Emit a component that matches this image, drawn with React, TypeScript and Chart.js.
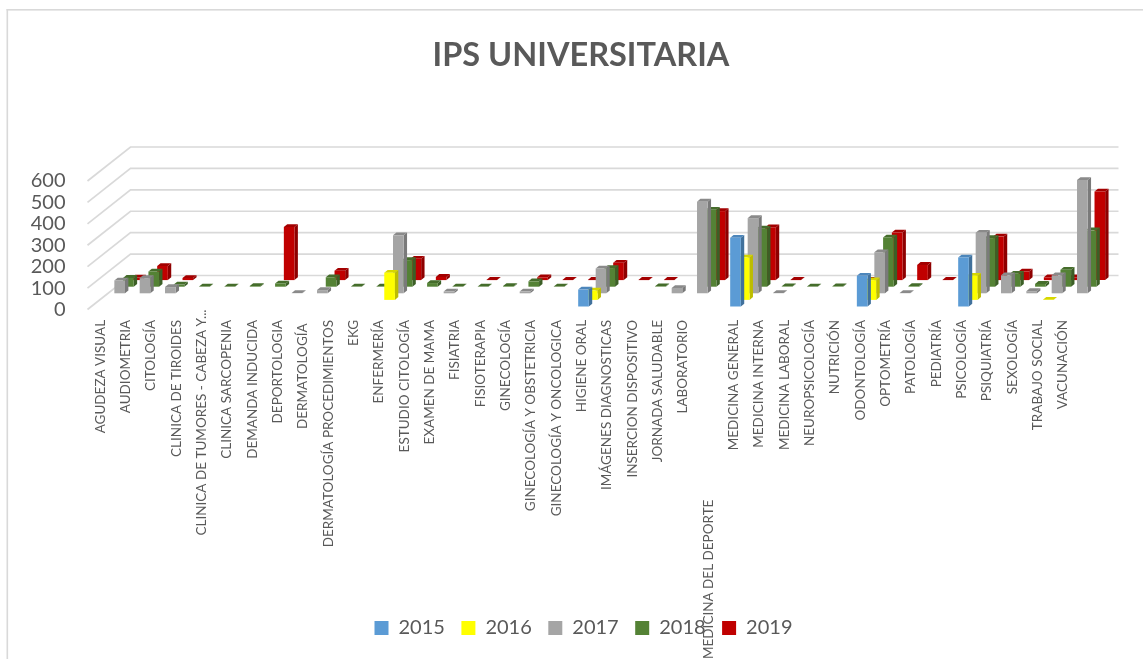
import React, { useEffect, useRef } from "react";
import { Chart, registerables } from "chart.js";

Chart.register(...registerables);

const categories = [
  "AGUDEZA VISUAL", "AUDIOMETRIA", "CITOLOGÍA", "CLINICA DE TIROIDES", "CLINICA DE TUMORES - CABEZA Y...",
  "CLINICA SARCOPENIA", "DEMANDA INDUCIDA", "DEPORTOLOGIA", "DERMATOLOGÍA", "DERMATOLOGÍA PROCEDIMIENTOS",
  "EKG", "ENFERMERÍA", "ESTUDIO CITOLOGÍA", "EXAMEN DE MAMA", "FISIATRIA", "FISIOTERAPIA", "GINECOLOGÍA",
  "GINECOLOGÍA Y OBSTETRICIA", "GINECOLOGÍA Y ONCOLOGICA", "HIGIENE ORAL", "IMÁGENES DIAGNOSTICAS",
  "INSERCION DISPOSITIVO", "JORNADA SALUDABLE", "LABORATORIO", "MEDICINA DEL DEPORTE", "MEDICINA GENERAL",
  "MEDICINA INTERNA", "MEDICINA LABORAL", "NEUROPSICOLOGÍA", "NUTRICIÓN", "ODONTOLOGÍA", "OPTOMETRÍA",
  "PATOLOGÍA", "PEDIATRÍA", "PSICOLOGÍA", "PSIQUIATRÍA", "SEXOLOGÍA", "TRABAJO SOCIAL", "VACUNACIÓN",
];

const n = null;
const values2015 = [n,n,n,n,n,n,n,n,n,n,n,n,n,n,n,n,n,n,n,79,n,n,n,n,n,321,n,n,n,n,143,n,n,n,229,n,n,n,n];
const values2016 = [n,n,n,n,n,n,n,n,n,n,n,127,n,n,n,n,n,n,n,44,n,n,n,n,n,198,n,n,n,n,92,n,n,n,113,n,n,1,n];
const values2017 = [60,71,29,n,n,n,n,1,15,n,n,271,n,8,n,n,8,n,n,116,n,n,25,428,n,351,1,n,n,n,192,1,n,n,283,84,10,84,529];
const values2018 = [41,71,10,1,1,3,15,n,44,1,1,124,17,1,1,3,25,1,n,87,n,2,n,359,n,271,2,1,2,n,230,3,n,n,227,60,13,79,263];
const values2019 = [12,66,10,n,n,n,248,n,44,n,n,100,15,n,1,n,13,1,1,81,1,1,n,322,n,246,1,n,n,1,222,71,1,n,203,40,13,13,414];

const yTicks = [0, 100, 200, 300, 400, 500, 600];
const seriesNames = ["2015", "2016", "2017", "2018", "2019"];
const frontColors = ["#5b9bd5", "#ffff00", "#a5a5a5", "#548235", "#c00000"];
const sideColors = ["#41719c", "#bdbd00", "#7a7a7a", "#3c5f26", "#8e0000"];
const topColors = ["#4c86bb", "#d6d600", "#8a8a8a", "#456d2b", "#a30000"];

const FONT = "Lato, Carlito, Calibri, sans-serif";
const GRID = "#d9d9d9";
const TEXT = "#595959";

// 3-D projection constants
const WALL_DX = 43;
const WALL_DY = 34;
const FIRST_DX = 2;
const FIRST_DY = 3;
const STEP_DX = 8.75;
const STEP_DY = 6.6;
const DEPTH_DX = 3.4;
const DEPTH_DY = 2.8;
const LEGEND_SHIFT = 2.5;

// Trailing blanks push a rotated label down from the axis, as they do in the source.
const labelGap = (label: string) => {
  if (label === "MEDICINA DEL DEPORTE") return 55;
  if (label.endsWith("...")) return 0;
  if (label === "DERMATOLOGÍA") return 4;
  return 3;
};

const poly = (ctx: CanvasRenderingContext2D, pts: number[][], fill: string) => {
  ctx.beginPath();
  pts.forEach((p, i) => (i ? ctx.lineTo(p[0], p[1]) : ctx.moveTo(p[0], p[1])));
  ctx.closePath();
  ctx.fillStyle = fill;
  ctx.fill();
};

const threeD = {
  id: "threeD",
  afterLayout(chart: any) {
    chart.legend.left += LEGEND_SHIFT;
    chart.legend.right += LEGEND_SHIFT;
    // let the long rotated labels run past the axis box, over the legend band
    chart.scales.x.bottom = chart.height;
  },
  beforeDraw(chart: any) {
    const { ctx, width, height } = chart;
    ctx.save();
    ctx.fillStyle = "#ffffff";
    ctx.fillRect(0, 0, width, height);
    ctx.fillStyle = GRID;
    ctx.fillRect(6.5, 9, 1.6, height - 9);
    ctx.fillRect(6.5, 9, width - 6.5, 1.6);
    ctx.restore();
  },
  beforeDatasetsDraw(chart: any) {
    const { ctx, chartArea, scales } = chart;
    ctx.save();
    ctx.strokeStyle = GRID;
    ctx.lineWidth = 1.7;
    yTicks.forEach((v) => {
      const py = scales.y.getPixelForValue(v);
      ctx.beginPath();
      ctx.moveTo(chartArea.left, py);
      ctx.lineTo(chartArea.left + WALL_DX, py - WALL_DY);
      ctx.lineTo(chartArea.right + WALL_DX, py - WALL_DY);
      ctx.stroke();
    });
    ctx.restore();
  },
  beforeDatasetDraw(chart: any, args: any) {
    const { ctx } = chart;
    const i = args.index;
    const ox = FIRST_DX + STEP_DX * i;
    const oy = -FIRST_DY - STEP_DY * i;
    ctx.save();
    args.meta.data.forEach((bar: any, j: number) => {
      if (chart.data.datasets[i].data[j] == null) return;
      const x0 = bar.x - bar.width / 2 + ox;
      const x1 = bar.x + bar.width / 2 + ox;
      const yt = bar.y + oy;
      const yb = bar.base + oy;
      poly(ctx, [[x1, yt], [x1 + DEPTH_DX, yt - DEPTH_DY], [x1 + DEPTH_DX, yb - DEPTH_DY], [x1, yb]], sideColors[i]);
      poly(ctx, [[x0, yt], [x0 + DEPTH_DX, yt - DEPTH_DY], [x1 + DEPTH_DX, yt - DEPTH_DY], [x1, yt]], topColors[i]);
      poly(ctx, [[x0, yt], [x1, yt], [x1, yb], [x0, yb]], frontColors[i]);
    });
    ctx.restore();
    return false;
  },
};

export default function App() {
  const ref = useRef<HTMLCanvasElement>(null);
  useEffect(() => {
    const seriesValues = [values2015, values2016, values2017, values2018, values2019];
    const chart = new Chart(ref.current as HTMLCanvasElement, {
      type: "bar",
      plugins: [threeD],
      data: {
        labels: categories,
        datasets: seriesNames.map((name, i) => ({
          label: name,
          data: seriesValues[i],
          backgroundColor: frontColors[i],
          grouped: false,
          categoryPercentage: 1,
          barPercentage: 0.42,
        })),
      },
      options: {
        responsive: false,
        animation: false,
        layout: { padding: { left: 19, right: 0, top: 0, bottom: 11 } },
        plugins: {
          tooltip: { enabled: false },
          title: {
            display: true,
            text: "IPS UNIVERSITARIA",
            color: TEXT,
            font: { family: FONT, size: 32.5, weight: "bold", lineHeight: 1.2 },
            padding: { top: 36.5, bottom: 105.5 },
          },
          legend: {
            position: "bottom",
            labels: {
              boxWidth: 14,
              boxHeight: 14,
              padding: 16.5,
              color: TEXT,
              font: { family: FONT, size: 20 },
            },
          },
        },
        scales: {
          x: {
            grid: { display: false, drawTicks: false },
            border: { display: false },
            afterFit: (s: any) => { s.height = 292; },
            ticks: {
              autoSkip: false,
              minRotation: 90,
              maxRotation: 90,
              padding: 0,
              color: TEXT,
              font: { family: FONT, size: 13.5 },
              callback(this: any, _v: any, i: number) {
                return categories[i] + " ".repeat(labelGap(categories[i]));
              },
            },
          },
          y: {
            min: 0,
            max: 600,
            grid: { display: false, drawTicks: false },
            border: { display: false },
            afterFit: (s: any) => { s.width = 68.5; },
            afterBuildTicks: (s: any) => { s.ticks = yTicks.map((value) => ({ value })); },
            ticks: { autoSkip: false, padding: 22, color: TEXT, font: { family: FONT, size: 20 } },
          },
          y2: {
            position: "right",
            grid: { display: false, drawTicks: false },
            border: { display: false },
            ticks: { display: false },
            afterFit: (s: any) => { s.width = 67.5; },
          },
        },
      },
    } as any);
    return () => chart.destroy();
  }, []);
  return (
    <div style={{ position: "absolute", left: 0, top: 0, width: 1143, height: 659 }}>
      <canvas ref={ref} width={1143} height={659} style={{ display: "block" }} />
    </div>
  );
}
